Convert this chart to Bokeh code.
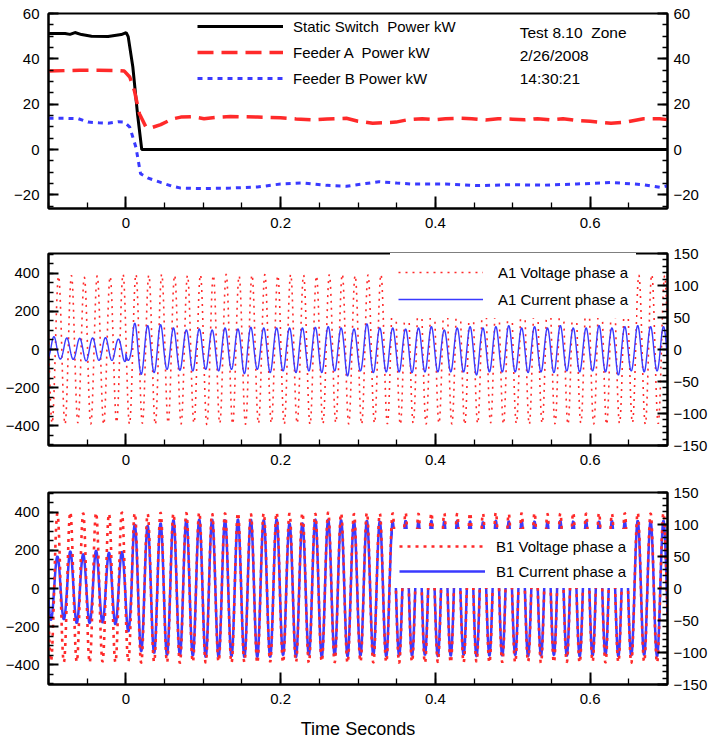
import numpy as np
from bokeh.plotting import figure
from bokeh.models import Range1d, LinearAxis, FixedTicker, Legend, LegendItem, Label
from bokeh.layouts import column
from bokeh.embed import file_html
from bokeh.resources import INLINE

# ------------------------------------------------------------------ data
FREQ_HZ = 60.0
X_START, X_END = -0.1, 0.7

# top panel: power (kW)
static_t = [-0.1, -0.0786, -0.0722, -0.0658, -0.0573, -0.0444, -0.023, -0.006, 0.0004, 0.003,
            0.009, 0.015, 0.0205, 0.1, 0.2, 0.3, 0.4, 0.5, 0.6, 0.7]
static_kw = [51.2, 51.2, 50.8, 51.6, 50.7, 50.0, 49.9, 50.7, 51.6, 49.8,
             36.4, 15.8, 0.0, 0.0, 0.0, 0.0, 0.0, 0.0, 0.0, 0.0]

feeder_a_t = [-0.1, -0.06, -0.036, -0.01, -0.002, 0.005, 0.011, 0.0175, 0.026, 0.031,
              0.045, 0.06, 0.071, 0.085, 0.101, 0.12, 0.135, 0.17, 0.2, 0.22,
              0.243, 0.26, 0.285, 0.3, 0.319, 0.349, 0.365, 0.383, 0.4, 0.413,
              0.43, 0.447, 0.465, 0.481, 0.5, 0.515, 0.532, 0.549, 0.565, 0.584,
              0.6, 0.627, 0.645, 0.669, 0.69, 0.7]
feeder_a_kw = [34.6, 35.0, 35.0, 34.8, 34.6, 32.0, 26.0, 15.8, 9.9, 9.4,
               11.0, 13.5, 14.3, 14.5, 13.6, 14.3, 14.6, 14.3, 14.0, 13.5,
               13.1, 13.5, 13.8, 12.5, 11.6, 12.1, 13.2, 13.6, 13.2, 13.6,
               13.8, 13.6, 13.0, 13.6, 13.4, 13.1, 13.6, 13.1, 13.6, 12.8,
               12.5, 11.6, 12.0, 13.6, 13.6, 13.2]

feeder_b_t = [-0.1, -0.08, -0.0615, -0.049, -0.035, -0.023, -0.01, -0.002,
              0.005, 0.013, 0.019, 0.028, 0.045, 0.06, 0.071,
              0.1, 0.135, 0.17, 0.2, 0.229, 0.26, 0.285,
              0.31, 0.327, 0.35, 0.37, 0.413, 0.455, 0.498,
              0.541, 0.583, 0.627, 0.669, 0.691, 0.7]
feeder_b_kw = [13.8, 13.8, 13.6, 12.1, 11.8, 11.6, 12.3, 12.1,
               9.9, 1.0, -10.7, -12.5, -14.5, -16.2, -17.0,
               -17.2, -17.0, -16.5, -15.2, -14.7, -15.8, -16.2,
               -15.0, -14.2, -14.8, -15.2, -15.2, -15.9, -15.5,
               -15.7, -15.2, -14.5, -15.5, -16.7, -16.0]

# middle panel: A1 (successive half-cycle extremes)
a1_voltage_first_extreme_t = -0.10367
a1_voltage_extremes = [
    392, -388, 386, -394, 389, -386, 380, -392, 388, -395,
    384, -384, 397, -393, 396, -388, 392, -395, 397, -386,
    391, -392, 390, -388, 394, -395, 391, -389, 396, -392,
    388, -394, 393, -390, 395, -387, 390, -393, 396, -389,
    392, -395, 388, -391, 394, -386, 397, -392, 390, -394,
    393, -388, 395, -391, 389, -395, 392, -387, 396, -393,
    390, -389, 394, -392, 388, -395, 393, -390, 395, -386,
    391, -393, 396, -389, 390, -394, 392, -388, 395, -391,
    389, -394, 393, -387, 396, -392, 390, -395, 392, -389,
    394, -386, 391, -393, 395, -390, 388, -392,
]
a1_current_switch_t = 0.0
a1_current_pre_first_extreme_t = -0.10133
a1_current_pre_extremes = [-14, 20, -15, 18, -15.5, 17.5, -17.8, 18, -17, 18.5, -17, 16.3, -18.8, 18]
a1_current_post_first_extreme_t = 0.00317
a1_current_post_extremes = [
    -17, 41, -38.7, 37.3, -36, 38.8, -31, 33.6, -32.5, 30.5,
    -33.5, 32, -31, 30.5, -33.5, 33.6, -31, 32, -37.7, 34.6,
    -31, 33.6, -36, 33.6, -33.5, 33.6, -36, 33.6, -33.5, 34.6,
    -36, 35.7, -33.5, 33.6, -41.3, 32, -33.5, 40, -36, 33.6,
    -35, 33.6, -35, 32, -36, 33.6, -35, 35.7, -35, 30.5,
    -35, 33.6, -35, 35.7, -39.8, 33.6, -35, 35.7, -35, 37.3,
    -35, 33.6, -36, 35.7, -35, 33.6, -36, 37.3, -33.5, 33.6,
    -35, 33.6, -33.5, 37.3, -35, 33.6, -39.8, 35.7, -33.5, 37.3,
    -35, 35.7, -33.5, 35.7, -35, 36,
]

# bottom panel: B1
b1_voltage_first_extreme_t = -0.10517
b1_voltage_extremes = [
    398, -384, 395, -388, 402, -386, 396, -390, 399, -385,
    394, -389, 401, -384, 397, -391, 393, -386, 399, -388,
    395, -392, 398, -387, 401, -390, 394, -385, 396, -391,
    399, -388, 393, -392, 397, -386, 400, -390, 395, -387,
    398, -391, 394, -385, 401, -389, 396, -392, 393, -386,
    399, -390, 395, -388, 397, -391, 400, -386, 394, -392,
    398, -387, 396, -390, 393, -389, 399, -385, 395, -391,
    401, -388, 394, -390, 397, -386, 399, -392, 393, -389,
    396, -387, 400, -391, 395, -385, 398, -390, 394, -388,
    397, -392, 399, -386, 395, -390, 398, -389,
]
b1_current_first_extreme_t = -0.10517
b1_current_extremes = [
    50, -49, 50, -48, 58, -54, 53.5, -54, 59, -53,
    56, -56, 57, -67, 100, -98, 98, -101, 102, -104,
    107, -104, 107, -105,
    108, -107, 108, -107, 107, -106, 108, -107, 108, -107,
    107, -107, 108, -104, 102, -107, 102, -104, 108, -107,
    108, -104, 107, -106, 105, -105, 106, -104, 105, -106,
    104, -105, 106, -105, 105, -104, 106, -106, 105, -105,
    106, -104, 105, -106, 104, -105, 106, -105, 105, -104,
    106, -106, 105, -105, 104, -104, 106, -105, 105, -106,
    106, -105, 105, -104, 106, -106, 105, -105, 106, -104,
    105, -106, 106, -105,
]

x_ticks = [0, 0.2, 0.4, 0.6]
power_ticks = [-20, 0, 20, 40, 60]
volt_ticks = [-400, -200, 0, 200, 400]
amp_ticks = [-150, -100, -50, 0, 50, 100, 150]

# ------------------------------------------------------------------ helpers
RED = "#ff2a2a"
BLUE = "#3a3aff"
FONT = "Liberation Sans"
FIG_W = 710
BORDER_L, BORDER_R = 48, 38

t = np.linspace(X_START, X_END, 3201)


def wave(tt, first_t, extremes):
    """Half-cycle arcs whose peaks are the read extremes."""
    half = 1.0 / (2.0 * FREQ_HZ)
    ext = np.asarray(extremes, dtype=float)
    k = np.clip(np.floor((tt - first_t) / half + 0.5).astype(int), 0, len(ext) - 1)
    s0 = np.sign(ext[0])
    return np.abs(ext[k]) * s0 * np.cos(2 * np.pi * FREQ_HZ * (tt - first_t))


def style_axis(ax, ticks, minor, standoff, major_len, minor_len):
    ax.ticker = FixedTicker(ticks=ticks, minor_ticks=minor)
    ax.major_tick_in = major_len
    ax.major_tick_out = 0
    ax.minor_tick_in = minor_len
    ax.minor_tick_out = 0
    ax.major_tick_line_width = 2
    ax.minor_tick_line_width = 1.3
    ax.major_tick_line_color = "black"
    ax.minor_tick_line_color = "black"
    ax.axis_line_width = 2
    ax.axis_line_color = "black"
    ax.major_label_text_font = FONT
    ax.major_label_text_font_size = "15px"
    ax.major_label_text_color = "black"
    ax.major_label_standoff = standoff
    ax.axis_label_standoff = 0


def make_panel(y_lo, y_hi, frame_h, b_top, b_bottom):
    p = figure(width=FIG_W, height=b_top + frame_h + b_bottom,
               x_range=Range1d(X_START, X_END), y_range=Range1d(y_lo, y_hi),
               output_backend="svg", toolbar_location=None,
               min_border_left=BORDER_L, min_border_right=BORDER_R,
               min_border_top=b_top, min_border_bottom=b_bottom,
               background_fill_color="white", border_fill_color="white")
    p.grid.visible = False
    p.outline_line_color = "black"
    p.outline_line_width = 2
    p.outline_line_alpha = 1
    xa = p.xaxis[0]
    style_axis(xa, x_ticks, list(np.arange(-0.1, 0.7001, 0.05)), 9, 12, 6)
    xa.major_label_overrides = {v: f"{v:g}" for v in x_ticks}
    return p


def make_legend(items, loc, padding, glyph_w, row_h, spacing, standoff, bg_alpha):
    return Legend(items=items, location=loc, padding=padding, margin=0, spacing=spacing,
                  glyph_width=glyph_w, glyph_height=row_h, label_height=row_h,
                  label_standoff=standoff, label_text_font=FONT,
                  label_text_font_size="15px", label_text_color="black",
                  border_line_alpha=0, background_fill_color="white",
                  background_fill_alpha=bg_alpha)


# ------------------------------------------------------------------ top panel
FH1 = 195
p1 = make_panel(-26, 60, FH1, 13, 31)
style_axis(p1.yaxis[0], power_ticks, list(range(-25, 61, 5)), 9, 10, 5)
r_ax1 = LinearAxis()
style_axis(r_ax1, power_ticks, list(range(-25, 61, 5)), 6, 10, 5)
p1.add_layout(r_ax1, "right")

r_static = p1.line(static_t, static_kw, line_color="black", line_width=3)
r_fa = p1.line(feeder_a_t, feeder_a_kw, line_color=RED, line_width=3.5, line_dash="16 8")
r_fb = p1.line(feeder_b_t, feeder_b_kw, line_color=BLUE, line_width=3, line_dash="5 5")

lg1 = make_legend([LegendItem(label="Static Switch  Power kW", renderers=[r_static]),
                   LegendItem(label="Feeder A  Power kW", renderers=[r_fa]),
                   LegendItem(label="Feeder B Power kW", renderers=[r_fb])],
                  (149, FH1 - 3 - 72), 0, 86, 20, 6, 10, 0)
p1.add_layout(lg1)

for txt, yv in [("Test 8.10\u00a0 Zone", 51.8), ("2/26/2008", 41.4), ("14:30:21", 31.4)]:
    p1.add_layout(Label(x=0.509, y=yv, text=txt, text_font=FONT, text_font_size="15.5px",
                        text_baseline="middle", text_align="left", text_color="black"))

# ------------------------------------------------------------------ middle panel
FH2 = 192
p2 = make_panel(-505, 505, FH2, 14, 33)
p2.extra_y_ranges = {"amps": Range1d(-150, 150)}
style_axis(p2.yaxis[0], volt_ticks, list(range(-500, 501, 50)), 9, 10, 5)
r_ax2 = LinearAxis(y_range_name="amps")
style_axis(r_ax2, amp_ticks, list(range(-150, 151, 10)), 6, 10, 5)
p2.add_layout(r_ax2, "right")

va = wave(t, a1_voltage_first_extreme_t, a1_voltage_extremes)
ia = np.where(t < a1_current_switch_t,
              wave(t, a1_current_pre_first_extreme_t, a1_current_pre_extremes),
              wave(t, a1_current_post_first_extreme_t, a1_current_post_extremes))
r_va = p2.line(t, va, line_color=RED, line_width=1.6, line_dash="2 5")
r_ia = p2.line(t, ia, line_color=BLUE, line_width=1.4, y_range_name="amps")

lg2 = make_legend([LegendItem(label="A1 Voltage phase a", renderers=[r_va]),
                   LegendItem(label="A1 Current phase a", renderers=[r_ia])],
                  (342, FH2 - 65), 8, 85, 22, 5, 15, 1)
p2.add_layout(lg2)

# ------------------------------------------------------------------ bottom panel
FH3 = 192
p3 = make_panel(-505, 505, FH3, 14, 57)
p3.extra_y_ranges = {"amps": Range1d(-150, 150)}
style_axis(p3.yaxis[0], volt_ticks, list(range(-500, 501, 50)), 9, 10, 5)
r_ax3 = LinearAxis(y_range_name="amps")
style_axis(r_ax3, amp_ticks, list(range(-150, 151, 10)), 6, 10, 5)
p3.add_layout(r_ax3, "right")
p3.xaxis[0].axis_label = "Time Seconds"
p3.xaxis[0].axis_label_text_font = FONT
p3.xaxis[0].axis_label_text_font_size = "18px"
p3.xaxis[0].axis_label_text_font_style = "normal"
p3.xaxis[0].axis_label_text_color = "black"
p3.xaxis[0].axis_label_standoff = 12

vb = wave(t, b1_voltage_first_extreme_t, b1_voltage_extremes)
ib = wave(t, b1_current_first_extreme_t, b1_current_extremes)
r_ib = p3.line(t, ib, line_color=BLUE, line_width=2.5, y_range_name="amps")
r_vb = p3.line(t, vb, line_color=RED, line_width=2.6, line_dash="3 5")

lg3 = make_legend([LegendItem(label="B1 Voltage phase a", renderers=[r_vb]),
                   LegendItem(label="B1 Current phase a", renderers=[r_ib])],
                  (345, FH3 / 2), 6, 86, 22, 3, 11, 1)
p3.add_layout(lg3)

layout = column(p1, p2, p3, spacing=0)
open("out.html", "w").write(file_html(layout, INLINE))
